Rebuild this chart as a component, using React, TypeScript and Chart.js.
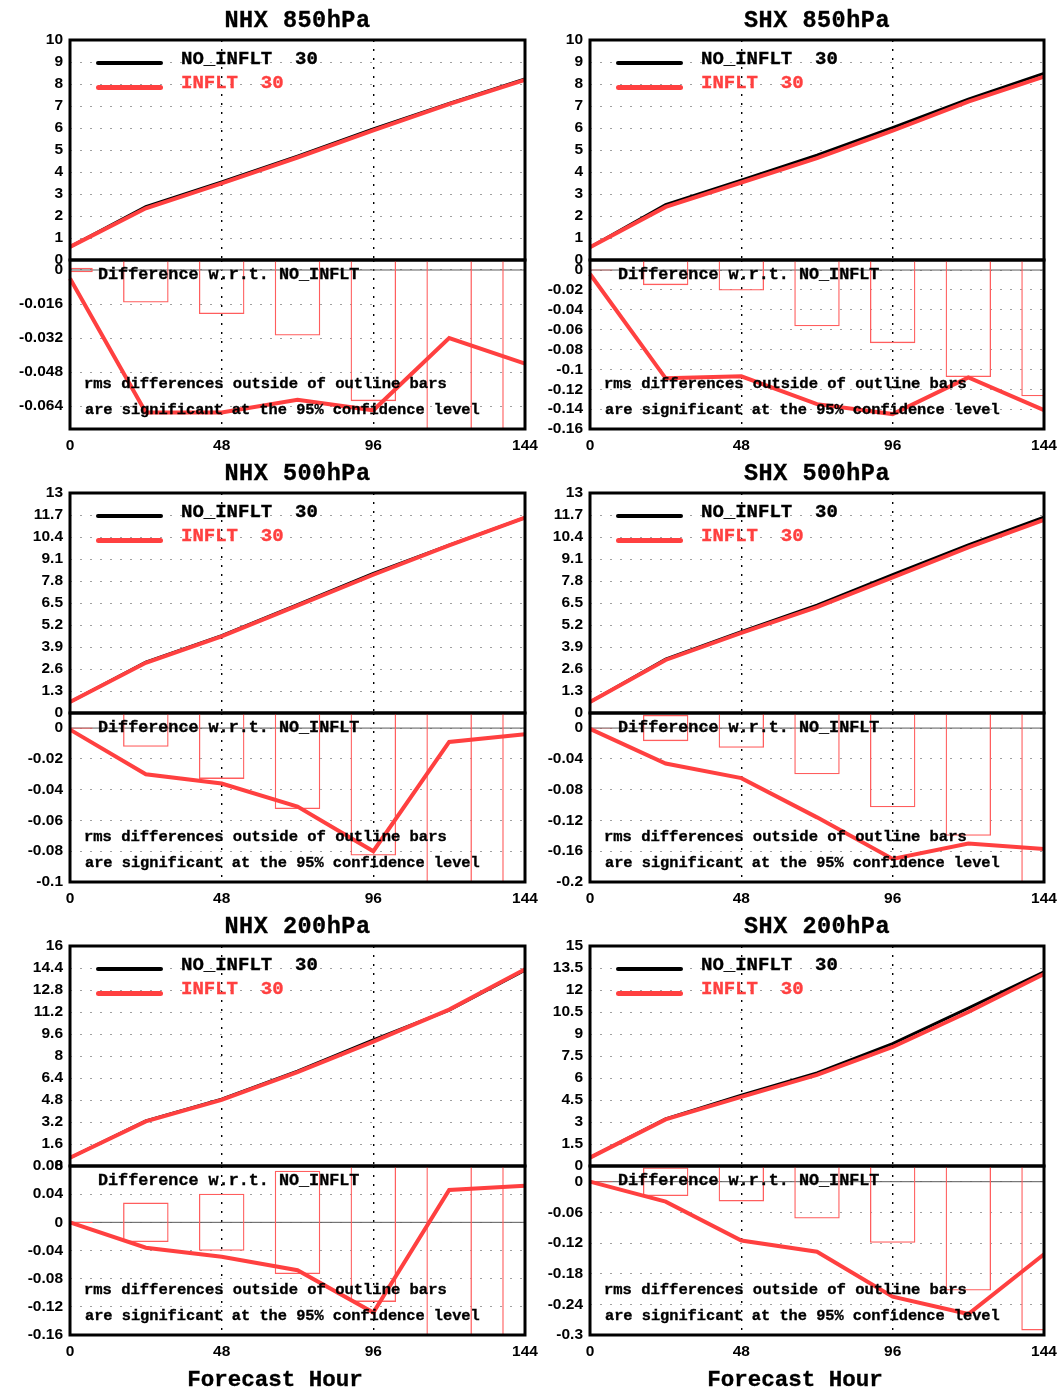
import React, { useEffect, useRef } from 'react';
import { Chart, registerables } from 'chart.js';

Chart.register(...registerables);

// ---------------- data ----------------
const HOURS = [0, 24, 48, 72, 96, 120, 144];
const X_TICKS = [0, 48, 96, 144];

const TICKS_10 = [0, 1, 2, 3, 4, 5, 6, 7, 8, 9, 10];
const TICKS_13 = [0, 1.3, 2.6, 3.9, 5.2, 6.5, 7.8, 9.1, 10.4, 11.7, 13];
const TICKS_16 = [0, 1.6, 3.2, 4.8, 6.4, 8, 9.6, 11.2, 12.8, 14.4, 16];
const TICKS_15 = [0, 1.5, 3, 4.5, 6, 7.5, 9, 10.5, 12, 13.5, 15];

// NHX 850hPa
const NHX850_NO_INFLT = [0.6, 2.42, 3.55, 4.72, 5.96, 7.12, 8.23];
const NHX850_INFLT = [0.596, 2.353, 3.483, 4.659, 5.894, 7.088, 8.186];
const NHX850_DIFF = [-0.004, -0.067, -0.067, -0.061, -0.066, -0.032, -0.044];
const NHX850_CONF = [0.0011, 0.0153, 0.0207, 0.0308, 0.0617, 0.09, 0.1];
const NHX850_DIFF_TICKS = [0, -0.016, -0.032, -0.048, -0.064];
const NHX850_DIFF_RANGE = [-0.0748, 0.0047];

// SHX 850hPa
const SHX850_NO_INFLT = [0.58, 2.52, 3.63, 4.77, 6.02, 7.31, 8.48];
const SHX850_INFLT = [0.576, 2.411, 3.523, 4.635, 5.875, 7.202, 8.339];
const SHX850_DIFF = [-0.004, -0.109, -0.107, -0.135, -0.145, -0.108, -0.141];
const SHX850_CONF = [0.0005, 0.0152, 0.0206, 0.0567, 0.0736, 0.1077, 0.127];
const SHX850_DIFF_TICKS = [0, -0.02, -0.04, -0.06, -0.08, -0.1, -0.12, -0.14, -0.16];
const SHX850_DIFF_RANGE = [-0.16, 0.0101];

// NHX 500hPa
const NHX500_NO_INFLT = [0.65, 3.0, 4.57, 6.4, 8.25, 9.92, 11.55];
const NHX500_INFLT = [0.649, 2.97, 4.534, 6.349, 8.17, 9.911, 11.546];
const NHX500_DIFF = [-0.001, -0.03, -0.036, -0.051, -0.08, -0.009, -0.004];
const NHX500_CONF = [0.0004, 0.0122, 0.033, 0.0526, 0.0828, 0.12, 0.13];
const NHX500_DIFF_TICKS = [0, -0.02, -0.04, -0.06, -0.08, -0.1];
const NHX500_DIFF_RANGE = [-0.1, 0.0098];

// SHX 500hPa
const SHX500_NO_INFLT = [0.65, 3.18, 4.8, 6.37, 8.18, 9.94, 11.57];
const SHX500_INFLT = [0.649, 3.134, 4.735, 6.254, 8.01, 9.79, 11.413];
const SHX500_DIFF = [-0.001, -0.046, -0.065, -0.116, -0.17, -0.15, -0.157];
const SHX500_CONF = [0.0005, 0.017, 0.0257, 0.06, 0.103, 0.14, 0.22];
const SHX500_DIFF_TICKS = [0, -0.04, -0.08, -0.12, -0.16, -0.2];
const SHX500_DIFF_RANGE = [-0.2, 0.0196];

// NHX 200hPa
const NHX200_NO_INFLT = [0.6, 3.28, 4.86, 6.9, 9.18, 11.33, 14.25];
const NHX200_INFLT = [0.6, 3.244, 4.811, 6.832, 9.052, 11.376, 14.302];
const NHX200_DIFF = [0, -0.036, -0.049, -0.068, -0.128, 0.046, 0.052];
const NHX200_CONF = [0.001, 0.028, 0.0405, 0.0733, 0.113, 0.2, 0.2];
const NHX200_DIFF_TICKS = [0.08, 0.04, 0, -0.04, -0.08, -0.12, -0.16];
const NHX200_DIFF_RANGE = [-0.16, 0.08];

// SHX 200hPa
const SHX200_NO_INFLT = [0.57, 3.22, 4.83, 6.35, 8.34, 10.76, 13.23];
const SHX200_INFLT = [0.57, 3.181, 4.715, 6.213, 8.115, 10.501, 13.088];
const SHX200_DIFF = [0, -0.039, -0.115, -0.137, -0.225, -0.259, -0.142];
const SHX200_CONF = [0.001, 0.028, 0.0386, 0.072, 0.1196, 0.213, 0.291];
const SHX200_DIFF_TICKS = [0, -0.06, -0.12, -0.18, -0.24, -0.3];
const SHX200_DIFF_RANGE = [-0.3, 0.0307];

const TITLES = ['NHX 850hPa', 'SHX 850hPa', 'NHX 500hPa', 'SHX 500hPa', 'NHX 200hPa', 'SHX 200hPa'];
const LEGEND_LABELS = ['NO_INFLT  30', 'INFLT  30'];
const DIFF_LABEL = 'Difference w.r.t. NO_INFLT';
const NOTE_LINES = ['rms differences outside of outline bars', 'are significant at the 95% confidence level'];
const X_TITLE = 'Forecast Hour';

const PANELS = [
  { title: TITLES[0], col: 0, row: 0, no: NHX850_NO_INFLT, inf: NHX850_INFLT, diff: NHX850_DIFF, conf: NHX850_CONF, topTicks: TICKS_10, diffTicks: NHX850_DIFF_TICKS, diffRange: NHX850_DIFF_RANGE },
  { title: TITLES[1], col: 1, row: 0, no: SHX850_NO_INFLT, inf: SHX850_INFLT, diff: SHX850_DIFF, conf: SHX850_CONF, topTicks: TICKS_10, diffTicks: SHX850_DIFF_TICKS, diffRange: SHX850_DIFF_RANGE },
  { title: TITLES[2], col: 0, row: 1, no: NHX500_NO_INFLT, inf: NHX500_INFLT, diff: NHX500_DIFF, conf: NHX500_CONF, topTicks: TICKS_13, diffTicks: NHX500_DIFF_TICKS, diffRange: NHX500_DIFF_RANGE },
  { title: TITLES[3], col: 1, row: 1, no: SHX500_NO_INFLT, inf: SHX500_INFLT, diff: SHX500_DIFF, conf: SHX500_CONF, topTicks: TICKS_13, diffTicks: SHX500_DIFF_TICKS, diffRange: SHX500_DIFF_RANGE },
  { title: TITLES[4], col: 0, row: 2, no: NHX200_NO_INFLT, inf: NHX200_INFLT, diff: NHX200_DIFF, conf: NHX200_CONF, topTicks: TICKS_16, diffTicks: NHX200_DIFF_TICKS, diffRange: NHX200_DIFF_RANGE },
  { title: TITLES[5], col: 1, row: 2, no: SHX200_NO_INFLT, inf: SHX200_INFLT, diff: SHX200_DIFF, conf: SHX200_CONF, topTicks: TICKS_15, diffTicks: SHX200_DIFF_TICKS, diffRange: SHX200_DIFF_RANGE },
];

// ---------------- layout / style ----------------
const COL_LEFT = [70, 590];
const COL_RIGHT = [525, 1044];
const ROW_TOP = [40, 493, 946];
const TOP_H = 220;
const DIFF_H = 169;
const AXIS_W = 70;
const PAD_R = 28;
const PAD_V = 22;
const X_AXIS_H = 30;

const RED = '#ff4040';
const BAR_RED = '#ff5e5e';
const MONO = '"Liberation Mono", "DejaVu Sans Mono", monospace';
const TICK_FONT = { family: '"Liberation Sans", Arial, sans-serif', weight: 'bold' as const, size: 15.5 };

function fmt(v: number): string {
  const r = Math.round(v * 10000) / 10000;
  return String(r === 0 ? 0 : r);
}

const framePlugin = {
  id: 'frame',
  beforeDatasetsDraw(chart: any, _args: any, opts: any) {
    if (!opts || !opts.zero) return;
    const y = chart.scales.y.getPixelForValue(0);
    const a = chart.chartArea;
    const ctx = chart.ctx;
    ctx.save();
    ctx.strokeStyle = '#5a5a5a';
    ctx.lineWidth = 1;
    ctx.beginPath();
    ctx.moveTo(a.left, y);
    ctx.lineTo(a.right, y);
    ctx.stroke();
    ctx.restore();
  },
  afterDatasetsDraw(chart: any) {
    const a = chart.chartArea;
    const ctx = chart.ctx;
    ctx.save();
    ctx.strokeStyle = '#000';
    ctx.lineWidth = 3;
    ctx.strokeRect(a.left, a.top, a.right - a.left, a.bottom - a.top);
    ctx.restore();
  },
};

function xScale(showLabels: boolean): any {
  return {
    type: 'linear',
    min: 0,
    max: 144,
    offset: false,
    afterBuildTicks: (s: any) => {
      s.ticks = X_TICKS.map((v) => ({ value: v }));
    },
    afterFit: (s: any) => {
      s.height = showLabels ? X_AXIS_H : 0;
    },
    ticks: {
      display: showLabels,
      padding: 7,
      font: TICK_FONT,
      color: '#000',
      maxRotation: 0,
      autoSkip: false,
      callback: (v: any) => fmt(Number(v)),
    },
    grid: {
      drawTicks: false,
      offset: false,
      lineWidth: 1.4,
      color: (c: any) => (c.tick && (c.tick.value === 48 || c.tick.value === 96) ? '#000' : 'rgba(0,0,0,0)'),
    },
    border: { display: false, dash: [2, 7] },
  };
}

function yScale(ticks: number[], min: number, max: number): any {
  return {
    type: 'linear',
    min,
    max,
    afterBuildTicks: (s: any) => {
      s.ticks = ticks.map((v) => ({ value: v }));
    },
    afterFit: (s: any) => {
      s.width = AXIS_W;
    },
    ticks: {
      padding: 7,
      font: TICK_FONT,
      color: '#000',
      autoSkip: false,
      callback: (v: any) => fmt(Number(v)),
    },
    grid: { drawTicks: false, color: '#a0a0a0', lineWidth: 1 },
    border: { display: false, dash: [2, 8] },
  };
}

function Text(props: { x: number; cy: number; text: string; size: number; color?: string; spacing?: number; center?: boolean; width?: number }) {
  const h = Math.round(props.size * 1.4);
  const style: any = {
    position: 'absolute',
    left: props.x,
    top: props.cy - h / 2,
    height: h,
    lineHeight: h + 'px',
    fontFamily: MONO,
    fontWeight: 'bold',
    fontSize: props.size,
    color: props.color || '#000',
    whiteSpace: 'pre',
    letterSpacing: (props.spacing || 0) + 'px',
    WebkitTextStroke: '0.35px ' + (props.color || '#000'),
  };
  if (props.center) {
    style.width = props.width;
    style.textAlign = 'center';
  }
  return <div style={style}>{props.text}</div>;
}

function Panel({ p }: { p: any }) {
  const topRef = useRef<HTMLCanvasElement>(null);
  const diffRef = useRef<HTMLCanvasElement>(null);
  const L = COL_LEFT[p.col];
  const R = COL_RIGHT[p.col];
  const Y0 = ROW_TOP[p.row];
  const Y1 = Y0 + TOP_H;
  const Y2 = Y1 + DIFF_H;
  const cLeft = L - AXIS_W;
  const cW = R - L + AXIS_W + PAD_R;
  const topH = TOP_H + 2 * PAD_V;
  const diffH = DIFF_H + PAD_V + X_AXIS_H + 4;

  useEffect(() => {
    const topMax = p.topTicks[p.topTicks.length - 1];
    const c1 = new Chart(topRef.current as HTMLCanvasElement, {
      type: 'line',
      data: {
        datasets: [
          {
            label: LEGEND_LABELS[1],
            data: HOURS.map((h, i) => ({ x: h, y: p.inf[i] })),
            borderColor: RED,
            borderWidth: 4,
            pointRadius: 0,
            tension: 0,
            order: 0,
            clip: 4,
          },
          {
            label: LEGEND_LABELS[0],
            data: HOURS.map((h, i) => ({ x: h, y: p.no[i] })),
            borderColor: '#000',
            borderWidth: 3,
            pointRadius: 0,
            tension: 0,
            order: 1,
            clip: 4,
          },
        ],
      } as any,
      options: {
        responsive: false,
        animation: false,
        events: [],
        layout: { padding: { top: PAD_V, bottom: PAD_V, left: 0, right: PAD_R } },
        scales: {
          x: xScale(false),
          y: yScale(p.topTicks, 0, topMax),
        },
        plugins: { legend: { display: false }, tooltip: { enabled: false }, frame: { zero: false } } as any,
      } as any,
      plugins: [framePlugin as any],
    });
    const c2 = new Chart(diffRef.current as HTMLCanvasElement, {
      type: 'line',
      data: {
        datasets: [
          {
            type: 'line',
            data: HOURS.map((h, i) => ({ x: h, y: p.diff[i] })),
            borderColor: RED,
            borderWidth: 4,
            pointRadius: 0,
            tension: 0,
            order: 0,
            clip: 4,
          },
          {
            type: 'bar',
            data: HOURS.map((h, i) => ({ x: h, y: [-p.conf[i], p.conf[i]] })),
            borderColor: BAR_RED,
            backgroundColor: 'rgba(0,0,0,0)',
            borderWidth: 1.3,
            borderSkipped: false,
            barPercentage: 0.6,
            categoryPercentage: 1,
            order: 1,
            clip: 0,
          },
        ],
      } as any,
      options: {
        responsive: false,
        animation: false,
        events: [],
        layout: { padding: { top: PAD_V, bottom: 4, left: 0, right: PAD_R } },
        scales: {
          x: xScale(true),
          y: yScale(p.diffTicks, p.diffRange[0], p.diffRange[1]),
        },
        plugins: { legend: { display: false }, tooltip: { enabled: false }, frame: { zero: true } } as any,
      } as any,
      plugins: [framePlugin as any],
    });
    return () => {
      c1.destroy();
      c2.destroy();
    };
  }, []);

  return (
    <>
      <canvas
        ref={topRef}
        width={cW}
        height={topH}
        style={{ position: 'absolute', left: cLeft, top: Y0 - PAD_V, width: cW, height: topH }}
      />
      <canvas
        ref={diffRef}
        width={cW}
        height={diffH}
        style={{ position: 'absolute', left: cLeft, top: Y1 - PAD_V, width: cW, height: diffH }}
      />
      <Text x={L} cy={Y0 - 20} text={p.title} size={23.5} spacing={0.5} center width={R - L} />
      <div style={{ position: 'absolute', left: L + 26, top: Y0 + 21, width: 67, height: 4, background: '#000', borderRadius: 2 }} />
      <div style={{ position: 'absolute', left: L + 26, top: Y0 + 45, width: 67, height: 5, background: RED, borderRadius: 2.5 }} />
      <Text x={L + 111} cy={Y0 + 19} text={LEGEND_LABELS[0]} size={19} />
      <Text x={L + 111} cy={Y0 + 43} text={LEGEND_LABELS[1]} size={19} color={RED} />
      <Text x={L + 28} cy={Y1 + 14} text={DIFF_LABEL} size={16.75} />
      <Text x={L + 14} cy={Y1 + 124} text={NOTE_LINES[0]} size={15.5} />
      <Text x={L + 15} cy={Y1 + 150} text={NOTE_LINES[1]} size={15.3} />
      {p.row === 2 ? <Text x={L + 205 - 100} cy={Y2 + 45} text={X_TITLE} size={22.5} center width={200} /> : null}
    </>
  );
}

export default function App() {
  return (
    <div
      style={{
        position: 'absolute',
        left: 0,
        top: 0,
        width: 1057,
        height: 1391,
        overflow: 'hidden',
        background: '#fff',
      }}
    >
      {PANELS.map((p, i) => (
        <Panel key={i} p={p} />
      ))}
    </div>
  );
}
